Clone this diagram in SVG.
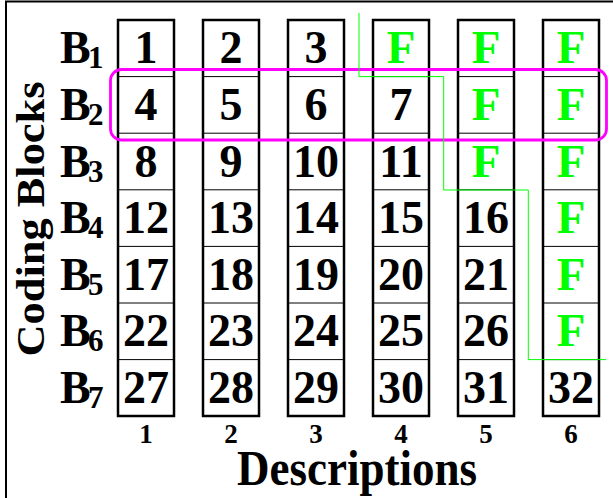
<svg xmlns="http://www.w3.org/2000/svg" width="613" height="498" viewBox="0 0 613 498">
<style>
text{font-family:"Liberation Serif","Times New Roman",serif;font-weight:bold;}
.n{font-size:46px;text-anchor:middle;fill:#000;}
.f{font-size:47px;text-anchor:middle;fill:#00ff00;}
.col{fill:none;stroke:#000;stroke-width:2.5;}
.sep{stroke:#000;stroke-width:1;}
.b{font-size:46px;}
.sub{font-size:31px;}
.cn{font-size:27px;text-anchor:middle;}
</style>
<rect x="6" y="1.5" width="700" height="600" fill="#fff" stroke="#000" stroke-width="2"/>
<g id="axis-labels">
<text transform="translate(44,219) rotate(-90)" text-anchor="middle" font-size="40" textLength="275" lengthAdjust="spacingAndGlyphs">Coding Blocks</text>
<text x="357" y="485" text-anchor="middle" font-size="50" textLength="240" lengthAdjust="spacingAndGlyphs">Descriptions</text>
</g>
<g id="row-labels">
<text class="b" x="60" y="63.3">B<tspan class="sub" x="88" dy="5">1</tspan></text>
<text class="b" x="60" y="119.9">B<tspan class="sub" x="88" dy="5">2</tspan></text>
<text class="b" x="60" y="176.5">B<tspan class="sub" x="88" dy="5">3</tspan></text>
<text class="b" x="60" y="233.1">B<tspan class="sub" x="88" dy="5">4</tspan></text>
<text class="b" x="60" y="289.7">B<tspan class="sub" x="88" dy="5">5</tspan></text>
<text class="b" x="60" y="346.3">B<tspan class="sub" x="88" dy="5">6</tspan></text>
<text class="b" x="60" y="402.9">B<tspan class="sub" x="88" dy="5">7</tspan></text>
</g>
<g id="col1">
<rect class="col" x="118" y="20" width="56" height="396"/>
<path class="sep" d="M118,76.6H174M118,133.2H174M118,189.8H174M118,246.4H174M118,303H174M118,359.6H174"/>
<text class="n" x="146" y="63.3">1</text><text class="n" x="146" y="119.9">4</text><text class="n" x="146" y="176.5">8</text><text class="n" x="146" y="233.1">12</text><text class="n" x="146" y="289.7">17</text><text class="n" x="146" y="346.3">22</text><text class="n" x="146" y="402.9">27</text>
<text class="cn" x="146" y="443">1</text>
</g>
<g id="col2">
<rect class="col" x="203" y="20" width="56" height="396"/>
<path class="sep" d="M203,76.6H259M203,133.2H259M203,189.8H259M203,246.4H259M203,303H259M203,359.6H259"/>
<text class="n" x="231" y="63.3">2</text><text class="n" x="231" y="119.9">5</text><text class="n" x="231" y="176.5">9</text><text class="n" x="231" y="233.1">13</text><text class="n" x="231" y="289.7">18</text><text class="n" x="231" y="346.3">23</text><text class="n" x="231" y="402.9">28</text>
<text class="cn" x="231" y="443">2</text>
</g>
<g id="col3">
<rect class="col" x="288" y="20" width="56" height="396"/>
<path class="sep" d="M288,76.6H344M288,133.2H344M288,189.8H344M288,246.4H344M288,303H344M288,359.6H344"/>
<text class="n" x="316" y="63.3">3</text><text class="n" x="316" y="119.9">6</text><text class="n" x="316" y="176.5">10</text><text class="n" x="316" y="233.1">14</text><text class="n" x="316" y="289.7">19</text><text class="n" x="316" y="346.3">24</text><text class="n" x="316" y="402.9">29</text>
<text class="cn" x="316" y="443">3</text>
</g>
<g id="col4">
<rect class="col" x="373" y="20" width="56" height="396"/>
<path class="sep" d="M373,76.6H429M373,133.2H429M373,189.8H429M373,246.4H429M373,303H429M373,359.6H429"/>
<text class="f" x="401" y="63.3">F</text><text class="n" x="401" y="119.9">7</text><text class="n" x="401" y="176.5">11</text><text class="n" x="401" y="233.1">15</text><text class="n" x="401" y="289.7">20</text><text class="n" x="401" y="346.3">25</text><text class="n" x="401" y="402.9">30</text>
<text class="cn" x="401" y="443">4</text>
</g>
<g id="col5">
<rect class="col" x="458" y="20" width="56" height="396"/>
<path class="sep" d="M458,76.6H514M458,133.2H514M458,189.8H514M458,246.4H514M458,303H514M458,359.6H514"/>
<text class="f" x="486" y="63.3">F</text><text class="f" x="486" y="119.9">F</text><text class="f" x="486" y="176.5">F</text><text class="n" x="486" y="233.1">16</text><text class="n" x="486" y="289.7">21</text><text class="n" x="486" y="346.3">26</text><text class="n" x="486" y="402.9">31</text>
<text class="cn" x="486" y="443">5</text>
</g>
<g id="col6">
<rect class="col" x="543" y="20" width="56" height="396"/>
<path class="sep" d="M543,76.6H599M543,133.2H599M543,189.8H599M543,246.4H599M543,303H599M543,359.6H599"/>
<text class="f" x="571" y="63.3">F</text><text class="f" x="571" y="119.9">F</text><text class="f" x="571" y="176.5">F</text><text class="f" x="571" y="233.1">F</text><text class="f" x="571" y="289.7">F</text><text class="f" x="571" y="346.3">F</text><text class="n" x="571" y="402.9">32</text>
<text class="cn" x="571" y="443">6</text>
</g>
<g id="connectors">
<rect id="b2-highlight" x="110.5" y="69.5" width="496" height="70.5" rx="11" ry="11" fill="none" stroke="#ff00ff" stroke-width="2.8"/>
<path id="boundary" d="M359,13V76.6H443.7V190H528.3V359.6H606" fill="none" stroke="#00ff00" stroke-width="1"/>
</g>
</svg>
